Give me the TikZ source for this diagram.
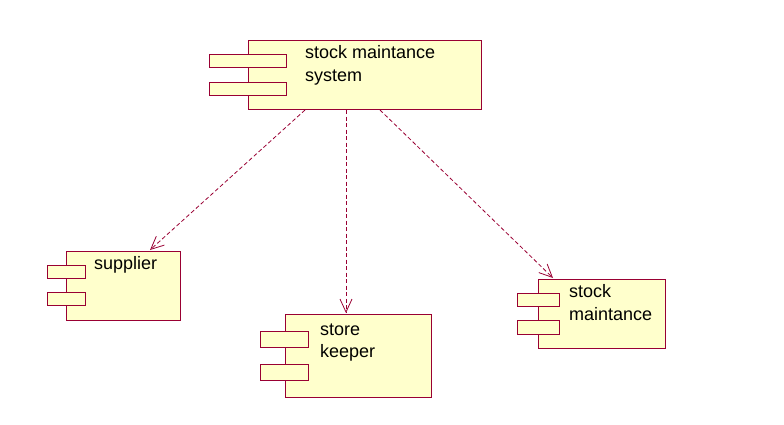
\documentclass[tikz,border=0pt]{standalone}
\usepackage{fontspec}
\setmainfont{Liberation Sans}
\usetikzlibrary{arrows.meta}
\definecolor{umlline}{HTML}{990033}
\definecolor{umlfill}{HTML}{FFFFCC}
\begin{document}
\begin{tikzpicture}[x=1pt,y=-1pt,
  comp/.style={draw=umlline,fill=umlfill,line width=1pt,inner sep=0pt,anchor=north west},
  port/.style={draw=umlline,fill=umlfill,line width=1pt},
  lbl/.style={anchor=north west,inner sep=0pt,align=left,font=\fontsize{18pt}{22.5pt}\selectfont,text=black},
  dep/.style={draw=umlline,line width=0.8pt,dash pattern=on 4pt off 2.5pt,-{Straight Barb[length=13pt,width=12pt,line width=0.8pt]}}]
\useasboundingbox (0,0) rectangle (784,424);
% top component
\node[comp,minimum width=233pt,minimum height=69pt] (sys) at (248,40) {};
\draw[port] (209,54) rectangle (286,67);
\draw[port] (209,82) rectangle (286,95);
\node[lbl] (syst) at (305,45.5) {stock maintance\\system};
% supplier
\node[comp,minimum width=114pt,minimum height=69pt] (sup) at (66,251) {};
\draw[port] (47,265) rectangle (85,278);
\draw[port] (47,292) rectangle (85,305);
\node[lbl] (supt) at (94,256.5) {supplier};
% store keeper
\node[comp,minimum width=146pt,minimum height=83pt] (keep) at (285,314) {};
\draw[port] (260,331) rectangle (308,347);
\draw[port] (260,364) rectangle (308,380);
\node[lbl] (keept) at (320,323.5) {store\\keeper};
% stock maintance
\node[comp,minimum width=127pt,minimum height=69pt] (stk) at (538,279) {};
\draw[port] (517,293) rectangle (559,306);
\draw[port] (517,320) rectangle (559,334);
\node[lbl] (stkt) at (569,284.5) {stock\\maintance};
% dependencies
\draw[dep] ([xshift=57pt]sys.south west) -- ([xshift=84pt,yshift=1pt]sup.north west);
\draw[dep] ([xshift=98pt]sys.south west) -- ([xshift=61pt,yshift=1pt]keep.north west);
\draw[dep] ([xshift=132pt]sys.south west) -- ([xshift=15pt,yshift=1pt]stk.north west);
\end{tikzpicture}
\end{document}
